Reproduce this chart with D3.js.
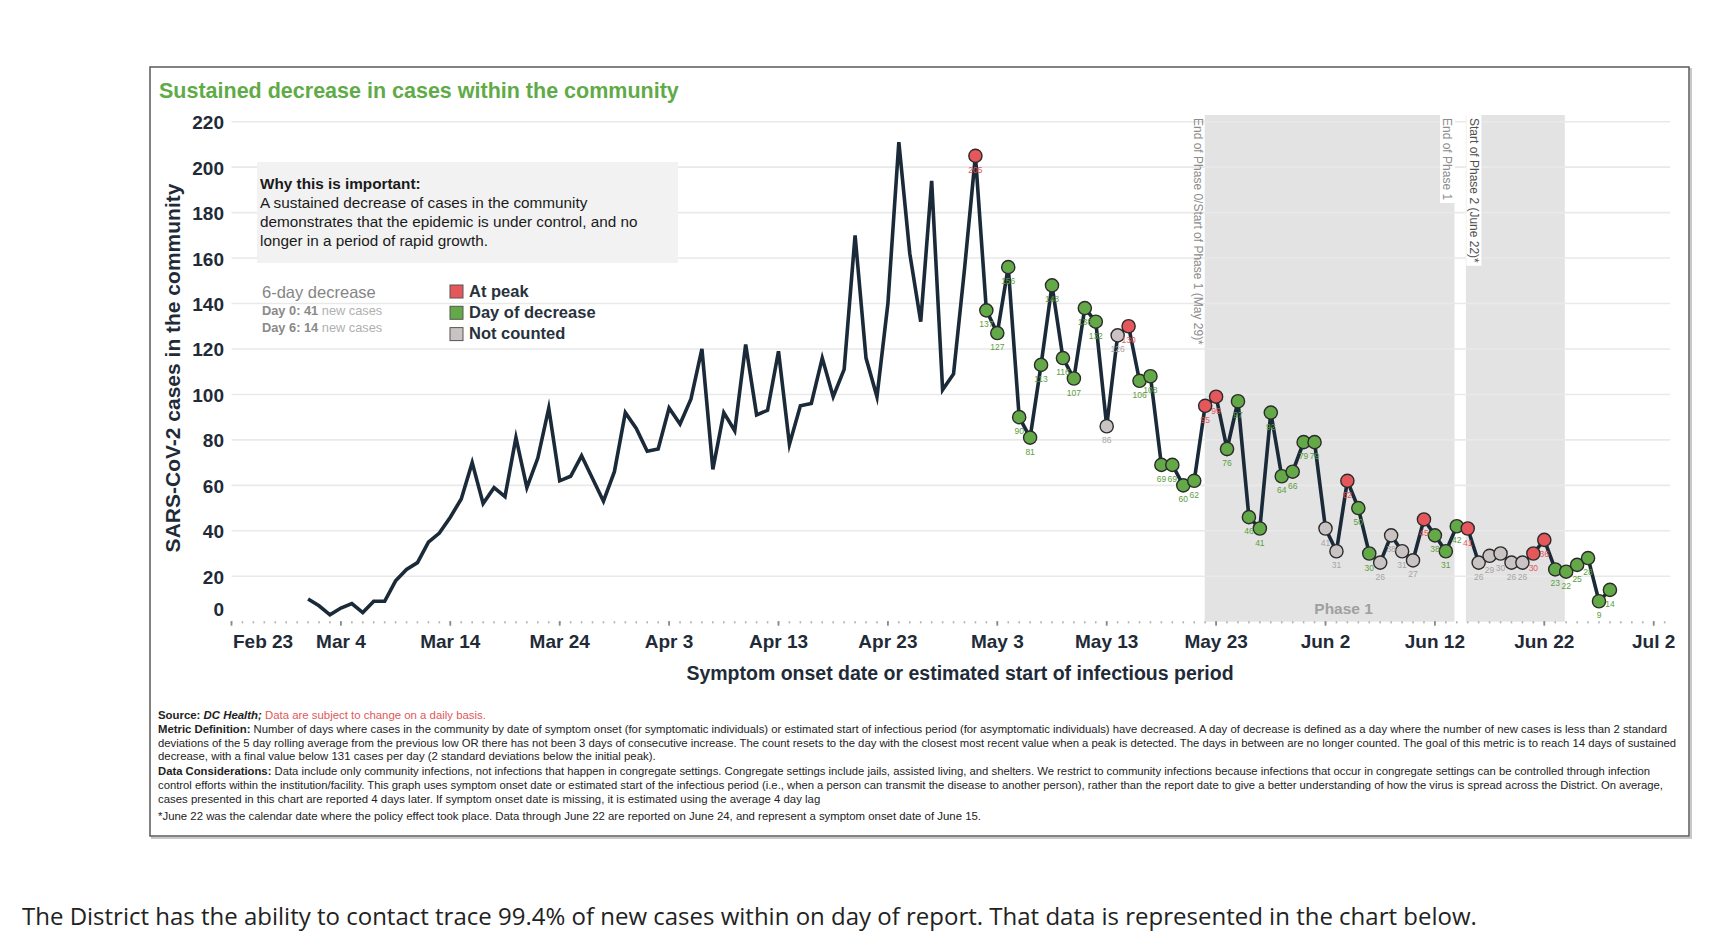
<!DOCTYPE html>
<html>
<head>
<meta charset="utf-8">
<script src="https://cdn.jsdelivr.net/npm/d3@7"></script>
<style>
  html, body { margin: 0; padding: 0; background: #fff; }
  svg { display: block; }
</style>
</head>
<body>
<svg id="chart"></svg>
<script>
// 1) Data -----------------------------------------------------------
// daily community cases by symptom onset, one array per month (starting day 1)
const marchCases = [10, 7, 3, 6, 8, 4, 9, 9, 18, 23, 26, 35, 39, 46, 54, 70, 52, 59, 55, 81,
  59, 72, 94, 62, 64, 73, 63, 53, 66, 92, 85];
const aprilCases = [75, 76, 94, 87, 98, 120, 67, 92, 84, 122, 91, 93, 119, 78, 95, 96, 116, 99,
  111, 170, 116, 99, 140, 211, 162, 132, 194, 102, 109, 155];
const mayCases = [205, 137, 127, 156, 90, 81, 113, 148, 116, 107, 138, 132, 86, 126, 130, 106,
  108, 69, 69, 60, 62, 95, 99, 76, 97, 46, 41, 92, 64, 66, 79];
const juneCases = [79, 41, 31, 62, 50, 30, 26, 38, 31, 27, 45, 38, 31, 42, 41, 26, 29, 30, 26,
  26, 30, 36, 23, 22, 25, 28, 9, 14];

// P = at peak, D = day of decrease, N = not counted (markers start May 1)
const mayStatus = ['P', 'D', 'D', 'D', 'D', 'D', 'D', 'D', 'D', 'D', 'D', 'D', 'N', 'N', 'P', 'D',
  'D', 'D', 'D', 'D', 'D', 'P', 'P', 'D', 'D', 'D', 'D', 'D', 'D', 'D', 'D'];
const juneStatus = ['D', 'N', 'N', 'P', 'D', 'D', 'N', 'N', 'N', 'N', 'P', 'D', 'D', 'D', 'P', 'N',
  'N', 'N', 'N', 'N', 'P', 'P', 'D', 'D', 'D', 'D', 'D', 'D'];

const xTickLabels = ['Feb 23', 'Mar 4', 'Mar 14', 'Mar 24', 'Apr 3', 'Apr 13', 'Apr 23',
  'May 3', 'May 13', 'May 23', 'Jun 2', 'Jun 12', 'Jun 22', 'Jul 2'];
const yTicks = [0, 20, 40, 60, 80, 100, 120, 140, 160, 180, 200, 220];

const phaseBands = [
  { start: '2020-05-21T23:00', end: '2020-06-13T19:00' },
  { start: '2020-06-14T20:00', end: '2020-06-23T21:00' }
];

const legendItems = [
  { code: 'P', label: 'At peak' },
  { code: 'D', label: 'Day of decrease' },
  { code: 'N', label: 'Not counted' }
];

const footLines = [
  [['b', 'Source: '], ['bi', 'DC Health; '], ['red', 'Data are subject to change on a daily basis.']],
  [['b', 'Metric Definition: '], ['n', 'Number of days where cases in the community by date of symptom onset (for symptomatic individuals) or estimated start of infectious period (for asymptomatic individuals) have decreased. A day of decrease is defined as a day where the number of new cases is less than 2 standard']],
  [['n', 'deviations of the 5 day rolling average from the previous low OR there has not been 3 days of consecutive increase. The count resets to the day with the closest most recent value when a peak is detected. The days in between are no longer counted. The goal of this metric is to reach 14 days of sustained']],
  [['n', 'decrease, with a final value below 131 cases per day (2 standard deviations below the initial peak).']],
  [['b', 'Data Considerations: '], ['n', 'Data include only community infections, not infections that happen in congregate settings. Congregate settings include jails, assisted living, and shelters. We restrict to community infections because infections that occur in congregate settings can be controlled through infection']],
  [['n', 'control efforts within the institution/facility. This graph uses symptom onset date or estimated start of the infectious period (i.e., when a person can transmit the disease to another person), rather than the report date to give a better understanding of how the virus is spread across the District. On average,']],
  [['n', 'cases presented in this chart are reported 4 days later. If symptom onset date is missing, it is estimated using the average 4 day lag']],
  [['n', '*June 22 was the calendar date where the policy effect took place. Data through June 22 are reported on June 24, and represent a symptom onset date of June 15.']]
];

// 2) Build rows -----------------------------------------------------
const rows = [];
[[2, marchCases, null], [3, aprilCases, null], [4, mayCases, mayStatus], [5, juneCases, juneStatus]]
  .forEach(([month, values, status]) => {
    values.forEach((v, i) => {
      rows.push({ date: new Date(2020, month, i + 1), value: v, status: status ? status[i] : null });
    });
  });

// 3) Canvas & scales ------------------------------------------------
const W = 1716, H = 940;
const FONT = '"Liberation Sans", Arial, sans-serif';
const svg = d3.select('#chart').attr('width', W).attr('height', H)
  .style('font-family', FONT);

const x = d3.scaleTime()
  .domain([new Date(2020, 1, 23), new Date(2020, 6, 2)])
  .range([231.5, 1653.7]);
const y = d3.scaleLinear().domain([0, 220]).range([621.7, 121.7]);
const gridRight = x(new Date(2020, 6, 3, 12));

const colors = { P: '#e5575a', D: '#64a948', N: '#c9c3c3' };
const labelColors = { P: '#e0585b', D: '#5c9e40', N: '#a9a3a3' };

// 4) Frame ----------------------------------------------------------
svg.append('rect')
  .attr('x', 152).attr('y', 69).attr('width', 1539).attr('height', 769)
  .attr('fill', 'none').attr('stroke', '#c8c8c8').attr('stroke-width', 2);
svg.append('rect')
  .attr('x', 150).attr('y', 67).attr('width', 1539).attr('height', 769)
  .attr('fill', '#fff').attr('stroke', '#5a5a5a').attr('stroke-width', 1.5);

svg.append('text')
  .attr('x', 159).attr('y', 97.5)
  .attr('font-size', 21.5).attr('font-weight', 'bold').attr('fill', '#5fab48')
  .text('Sustained decrease in cases within the community');

// 5) Phase shading --------------------------------------------------
const bands = phaseBands.map(b => ({ x0: x(new Date(b.start)), x1: x(new Date(b.end)) }));
svg.selectAll('.band')
  .data(bands)
  .enter().append('rect')
  .attr('class', 'band')
  .attr('x', d => d.x0).attr('width', d => d.x1 - d.x0)
  .attr('y', 115).attr('height', y(0) - 115)
  .attr('fill', '#e3e3e3');

// 6) Gridlines & axes -----------------------------------------------
svg.selectAll('.grid')
  .data(yTicks.filter(t => t > 0))
  .enter().append('line')
  .attr('class', 'grid')
  .attr('x1', x.range()[0]).attr('x2', gridRight)
  .attr('y1', d => y(d)).attr('y2', d => y(d))
  .attr('stroke', '#e9e9e9').attr('stroke-width', 1.6);

svg.selectAll('.ytick')
  .data(yTicks)
  .enter().append('text')
  .attr('class', 'ytick')
  .attr('x', 224)
  .attr('y', d => y(d) + (d === 0 ? -6 : 7.5))
  .attr('text-anchor', 'end')
  .attr('font-size', 19).attr('font-weight', 'bold').attr('fill', '#1f2b38')
  .text(d => d);

// dotted baseline: one small tick per day, bigger tick every 10 days
const days = d3.timeDay.range(x.domain()[0], new Date(2020, 6, 4));
svg.selectAll('.dot')
  .data(days)
  .enter().append('rect')
  .attr('class', 'dot')
  .attr('x', d => x(d) - 0.8).attr('y', y(0) - 0.5)
  .attr('width', 1.6).attr('height', 2.2)
  .attr('fill', '#b5b5b5');

const majorDates = xTickLabels.map(s => d3.timeParse('%b %d %Y')(s + ' 2020'));
svg.selectAll('.major')
  .data(majorDates)
  .enter().append('rect')
  .attr('class', 'major')
  .attr('x', d => x(d) - 0.9).attr('y', y(0) - 0.5)
  .attr('width', 1.8).attr('height', 4.5)
  .attr('fill', '#8a8a8a');

svg.selectAll('.xtick')
  .data(xTickLabels)
  .enter().append('text')
  .attr('class', 'xtick')
  .attr('x', (d, i) => x(majorDates[i]) + (i === 0 ? 1.5 : 0))
  .attr('y', 648)
  .attr('text-anchor', (d, i) => i === 0 ? 'start' : 'middle')
  .attr('font-size', 19).attr('font-weight', 'bold').attr('fill', '#1f2b38')
  .text(d => d);

svg.append('text')
  .attr('x', 960).attr('y', 680)
  .attr('text-anchor', 'middle')
  .attr('font-size', 19.5).attr('font-weight', 'bold').attr('fill', '#1f2b38')
  .text('Symptom onset date or estimated start of infectious period');

svg.append('text')
  .attr('transform', 'translate(180,368) rotate(-90)')
  .attr('text-anchor', 'middle')
  .attr('font-size', 21).attr('font-weight', 'bold').attr('fill', '#1f2b38')
  .text('SARS-CoV-2 cases in the community');

// 7) Phase labels ---------------------------------------------------
const phaseLabels = [
  { text: 'End of Phase 0/Start of Phase 1 (May 29)*', xc: bands[0].x0 - 7, box: false, color: '#8c8c8c' },
  { text: 'End of Phase 1', xc: bands[0].x1 - 7, box: true, color: '#8c8c8c' },
  { text: 'Start of Phase 2 (June 22)*', xc: bands[1].x0 + 8, box: true, color: '#505050' }
];
phaseLabels.forEach(p => {
  const g = svg.append('g').attr('transform', `translate(${p.xc},118) rotate(90)`);
  const t = g.append('text')
    .attr('dy', '0.35em')
    .attr('font-size', 12).attr('fill', p.color)
    .text(p.text);
  if (p.box) {
    const len = t.node().getComputedTextLength();
    g.insert('rect', 'text')
      .attr('x', -3).attr('y', -7.5)
      .attr('width', len + 6).attr('height', 15)
      .attr('fill', '#fff');
  }
});

svg.append('text')
  .attr('x', (bands[0].x0 + bands[0].x1) / 2 + 14).attr('y', 614)
  .attr('text-anchor', 'middle')
  .attr('font-size', 15.5).attr('font-weight', 'bold').attr('fill', '#a0a0a0')
  .text('Phase 1');

// 8) Info box & legend ----------------------------------------------
svg.append('rect')
  .attr('x', 257).attr('y', 162).attr('width', 421).attr('height', 101)
  .attr('fill', '#f2f2f2');
const info = svg.append('text').attr('font-size', 15.3).attr('fill', '#1a1a1a');
info.append('tspan').attr('x', 260).attr('y', 189).attr('font-weight', 'bold')
  .text('Why this is important:');
['A sustained decrease of cases in the community',
  'demonstrates that the epidemic is under control, and no',
  'longer in a period of rapid growth.'].forEach((s, i) => {
  info.append('tspan').attr('x', 260).attr('y', 207.5 + i * 19).text(s);
});

svg.append('text')
  .attr('x', 262).attr('y', 298)
  .attr('font-size', 16.5).attr('fill', '#858585')
  .text('6-day decrease');
[['Day 0: 41', ' new cases'], ['Day 6: 14', ' new cases']].forEach((d, i) => {
  const t = svg.append('text')
    .attr('x', 262).attr('y', 315 + i * 16.5)
    .attr('font-size', 12.8);
  t.append('tspan').attr('fill', '#8a8a8a').attr('font-weight', 'bold').text(d[0]);
  t.append('tspan').attr('fill', '#b0b0b0').text(d[1]);
});

const legend = svg.selectAll('.legend')
  .data(legendItems)
  .enter().append('g')
  .attr('class', 'legend')
  .attr('transform', (d, i) => `translate(450,${285 + i * 21.3})`);
legend.append('rect')
  .attr('width', 13).attr('height', 13)
  .attr('fill', d => colors[d.code]).attr('stroke', '#555').attr('stroke-width', 1);
legend.append('text')
  .attr('x', 19).attr('y', 11.5)
  .attr('font-size', 16.5).attr('font-weight', 'bold').attr('fill', '#28323d')
  .text(d => d.label);

// 9) Case line & markers --------------------------------------------
const line = d3.line()
  .x(d => x(d.date))
  .y(d => y(d.value));

svg.append('path')
  .datum(rows)
  .attr('d', line)
  .attr('fill', 'none')
  .attr('stroke', '#1b2a38')
  .attr('stroke-width', 3.6)
  .attr('stroke-linejoin', 'miter')
  .attr('stroke-miterlimit', 6);

const marked = rows.filter(d => d.status);

svg.selectAll('.marker')
  .data(marked)
  .enter().append('circle')
  .attr('class', 'marker')
  .attr('cx', d => x(d.date)).attr('cy', d => y(d.value))
  .attr('r', 6.6)
  .attr('fill', d => colors[d.status])
  .attr('stroke', '#2b2b2b').attr('stroke-width', 1.4);

svg.selectAll('.vlabel')
  .data(marked)
  .enter().append('text')
  .attr('class', 'vlabel')
  .attr('x', d => x(d.date)).attr('y', d => y(d.value) + 17)
  .attr('text-anchor', 'middle')
  .attr('font-size', 8.5).attr('fill', d => labelColors[d.status])
  .text(d => d.value);

// 10) Footnotes -----------------------------------------------------
const footY = [718.7, 733, 747.3, 760.4, 774.7, 789, 803.2, 819.7];
const fullWidth = { 1: 1509, 2: 1518, 4: 1492, 5: 1505 };
footLines.forEach((parts, i) => {
  const t = svg.append('text')
    .attr('x', 158).attr('y', footY[i])
    .attr('font-size', 11.4).attr('fill', '#222');
  parts.forEach(([style, str]) => {
    const s = t.append('tspan').text(str);
    if (style === 'b' || style === 'bi') s.attr('font-weight', 'bold');
    if (style === 'bi') s.attr('font-style', 'italic');
    if (style === 'red') s.attr('fill', '#e0585b');
  });
  if (fullWidth[i]) {
    t.attr('textLength', fullWidth[i]).attr('lengthAdjust', 'spacingAndGlyphs');
  }
});

// 11) Sentence below the chart --------------------------------------
svg.append('text')
  .attr('x', 22).attr('y', 925)
  .attr('font-family', '"Open Sans", sans-serif')
  .attr('font-size', 24).attr('fill', '#222')
  .text('The District has the ability to contact trace 99.4% of new cases within on day of report. That data is represented in the chart below.');
</script>
</body>
</html>
